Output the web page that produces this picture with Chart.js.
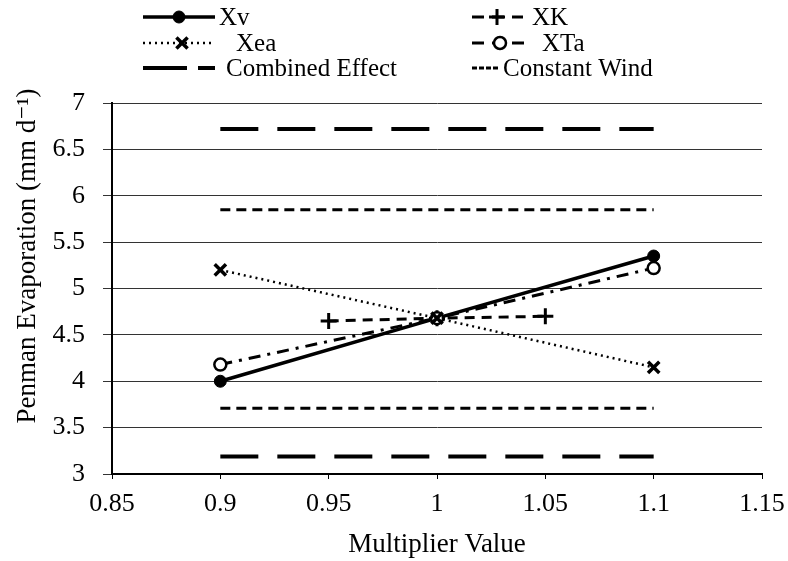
<!DOCTYPE html>
<html>
<head>
<meta charset="utf-8">
<style>
  html, body { margin: 0; padding: 0; background: #fff; }
  #wrap { width: 788px; height: 561px; }
</style>
<script src="https://cdn.jsdelivr.net/npm/chart.js@4/dist/chart.umd.min.js"></script>
</head>
<body>
<div id="wrap"><canvas id="evapChart" width="788" height="561"></canvas></div>
<script>
// values
const xTicks = [0.85, 0.9, 0.95, 1, 1.05, 1.1, 1.15];
const yTicks = [3, 3.5, 4, 4.5, 5, 5.5, 6, 6.5, 7];

const xvX = [0.9, 1, 1.1];
const xvY = [4.0, 4.68, 5.35];

const xkX = [0.95, 1, 1.05];
const xkY = [4.65, 4.68, 4.70];

const xeaX = [0.9, 1, 1.1];
const xeaY = [5.2, 4.68, 4.15];

const xtaX = [0.9, 1, 1.1];
const xtaY = [4.18, 4.68, 5.22];

const rangeX = [0.9, 1.1];
const combinedHigh = [6.72, 6.72];
const combinedLow = [3.19, 3.19];
const windHigh = [5.85, 5.85];
const windLow = [3.71, 3.71];

const serif = '"Liberation Serif", "DejaVu Serif", serif';

function pts(xs, ys) {
    return xs.map((x, i) => ({ x: x, y: ys[i] }));
}

const series = {
    xv: { label: 'Xv', borderDash: [], borderWidth: 3.5, pointStyle: 'circle', pointRadius: 6, pointBackgroundColor: '#000', pointBorderWidth: 1 },
    xk: { label: 'XK', borderDash: [10, 7], borderWidth: 3, pointStyle: 'cross', pointRadius: 8, pointBackgroundColor: '#000', pointBorderWidth: 3 },
    xea: { label: 'Xea', borderDash: [2, 4], borderWidth: 2.5, pointStyle: 'crossRot', pointRadius: 8, pointBackgroundColor: '#000', pointBorderWidth: 3.5 },
    xta: { label: 'XTa', borderDash: [12, 7, 3, 7], borderWidth: 3, pointStyle: 'circle', pointRadius: 6, pointBackgroundColor: '#fff', pointBorderWidth: 2.5 },
    combined: { label: 'Combined Effect', borderDash: [38, 19], borderWidth: 4, pointStyle: false, pointRadius: 0 },
    wind: { label: 'Constant Wind', borderDash: [10, 6], borderWidth: 3, pointStyle: false, pointRadius: 0 }
};

function makeSet(key, data) {
    const s = series[key];
    return {
        label: s.label,
        data: data,
        showLine: true,
        borderColor: '#000',
        backgroundColor: '#000',
        borderWidth: s.borderWidth,
        borderDash: s.borderDash,
        pointStyle: s.pointStyle,
        pointRadius: s.pointRadius,
        pointHoverRadius: s.pointRadius,
        pointBorderColor: '#000',
        pointBackgroundColor: s.pointBackgroundColor || '#000',
        pointBorderWidth: s.pointBorderWidth || 0,
        tension: 0
    };
}

// legend entries as Excel laid them out: sample start/end, marker centre, text start, row
const legendItems = [
    { key: 'xv', x0: 143, x1: 215, mx: 179, tx: 219, row: 0 },
    { key: 'xea', x0: 143, x1: 213, mx: 182, tx: 236, row: 1, dash: [2, 4] },
    { key: 'combined', x0: 143, x1: 215, mx: 0, tx: 226, row: 2, dash: [44, 11] },
    { key: 'xk', x0: 472, x1: 523, mx: 497, tx: 532, row: 0, dash: [12, 8] },
    { key: 'xta', x0: 472, x1: 528, mx: 500, tx: 542, row: 1, dash: [12, 8] },
    { key: 'wind', x0: 472, x1: 498, mx: 0, tx: 503, row: 2, dash: [5, 2] }
];

function drawMarker(ctx, s, x, y) {
    if (!s.pointStyle) return;
    const r = s.pointRadius;
    ctx.save();
    ctx.setLineDash([]);
    ctx.strokeStyle = '#000';
    ctx.lineWidth = s.pointBorderWidth;
    ctx.beginPath();
    if (s.pointStyle === 'circle') {
        ctx.arc(x, y, r, 0, Math.PI * 2);
        ctx.fillStyle = s.pointBackgroundColor;
        ctx.fill();
        ctx.stroke();
    } else if (s.pointStyle === 'cross') {
        ctx.moveTo(x - r, y); ctx.lineTo(x + r, y);
        ctx.moveTo(x, y - r); ctx.lineTo(x, y + r);
        ctx.stroke();
    } else if (s.pointStyle === 'crossRot') {
        const d = r * 0.7;
        ctx.moveTo(x - d, y - d); ctx.lineTo(x + d, y + d);
        ctx.moveTo(x + d, y - d); ctx.lineTo(x - d, y + d);
        ctx.stroke();
    }
    ctx.restore();
}

const overlay = {
    id: 'overlay',
    afterDraw(chart) {
        const ctx = chart.ctx;
        const rowY = [17, 43, 68];
        ctx.save();
        legendItems.forEach((item) => {
            const s = series[item.key];
            const y = rowY[item.row];
            ctx.beginPath();
            ctx.strokeStyle = '#000';
            ctx.lineWidth = s.borderWidth;
            ctx.setLineDash(item.dash || s.borderDash);
            ctx.moveTo(item.x0, y);
            ctx.lineTo(item.x1, y);
            ctx.stroke();
            if (item.mx) drawMarker(ctx, s, item.mx, y);
            ctx.setLineDash([]);
            ctx.fillStyle = '#000';
            ctx.font = '25px ' + serif;
            ctx.textAlign = 'left';
            ctx.textBaseline = 'middle';
            ctx.fillText(s.label, item.tx, y + 1);
        });
        // y axis title
        ctx.translate(28, 256);
        ctx.rotate(-Math.PI / 2);
        ctx.font = '27px ' + serif;
        ctx.textAlign = 'center';
        ctx.textBaseline = 'middle';
        ctx.fillText('Penman Evaporation (mm d\u207B\u00B9)', 0, 0);
        ctx.restore();
    }
};

function fmt(v) {
    return String(Math.round(v * 100) / 100);
}

new Chart(document.getElementById('evapChart'), {
    type: 'scatter',
    data: {
        datasets: [
            makeSet('combined', pts(rangeX, combinedHigh)),
            makeSet('combined', pts(rangeX, combinedLow)),
            makeSet('wind', pts(rangeX, windHigh)),
            makeSet('wind', pts(rangeX, windLow)),
            makeSet('xea', pts(xeaX, xeaY)),
            makeSet('xta', pts(xtaX, xtaY)),
            makeSet('xk', pts(xkX, xkY)),
            makeSet('xv', pts(xvX, xvY))
        ]
    },
    options: {
        responsive: false,
        animation: false,
        events: [],
        layout: { padding: { top: 103, right: 26, left: 0, bottom: 0 } },
        plugins: {
            legend: { display: false },
            tooltip: { enabled: false }
        },
        scales: {
            x: {
                type: 'linear',
                min: xTicks[0],
                max: xTicks[xTicks.length - 1],
                afterFit: (scale) => { scale.height = 87; },
                afterBuildTicks: (scale) => { scale.ticks = xTicks.map(v => ({ value: v })); },
                border: { color: '#000', width: 2 },
                grid: { drawOnChartArea: false, drawTicks: true, tickLength: 5, color: '#000' },
                ticks: {
                    padding: 1,
                    color: '#000',
                    maxRotation: 0,
                    font: { family: serif, size: 26, lineHeight: 1.85 },
                    callback: fmt
                },
                title: {
                    display: true,
                    text: 'Multiplier Value',
                    color: '#000',
                    font: { family: serif, size: 27 },
                    padding: { top: 0, bottom: 0 }
                }
            },
            y: {
                type: 'linear',
                min: yTicks[0],
                max: yTicks[yTicks.length - 1],
                afterFit: (scale) => { scale.width = 112; },
                afterBuildTicks: (scale) => { scale.ticks = yTicks.map(v => ({ value: v })); },
                border: { color: '#000', width: 2 },
                grid: { color: '#333', lineWidth: 1, tickLength: 9 },
                ticks: {
                    padding: 18,
                    color: '#000',
                    font: { family: serif, size: 26 },
                    callback: fmt
                }
            }
        }
    },
    plugins: [overlay]
});
</script>
</body>
</html>
